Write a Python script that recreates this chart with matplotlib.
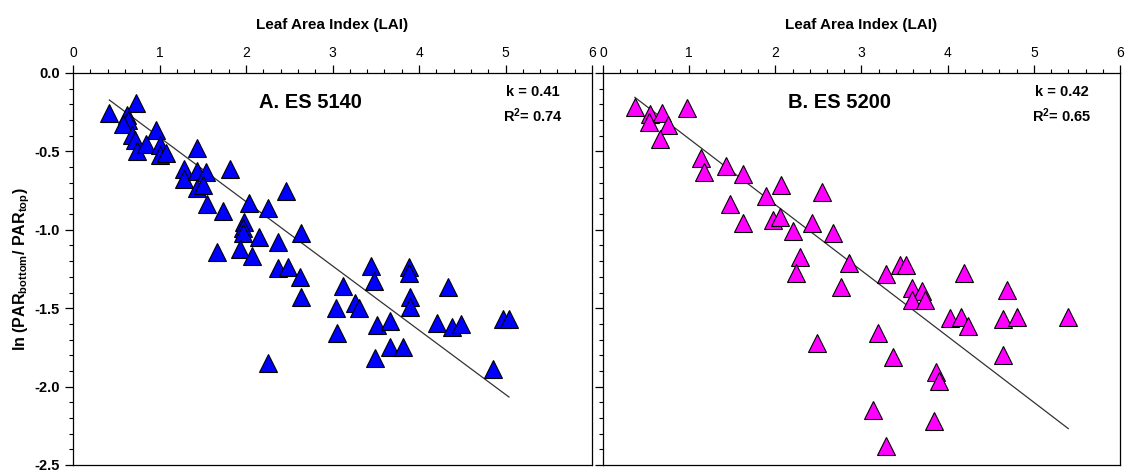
import matplotlib
matplotlib.use("Agg")
import matplotlib.pyplot as plt
from matplotlib.ticker import MultipleLocator
import numpy as np

plt.rcParams['font.family'] = ['Liberation Sans', 'DejaVu Sans']
plt.rcParams['mathtext.default'] = 'regular'

# ES 5140 (panel A)
lai_a = [0.42, 0.73, 0.62, 0.64, 0.58, 0.68, 0.72, 0.74, 0.84, 0.96, 1.01, 1.01,
         1.08, 1.43, 1.28, 1.28, 1.43, 1.54, 1.43, 1.50, 1.81, 1.55, 1.73, 2.03,
         2.26, 2.46, 1.98, 1.97, 1.97, 2.15, 2.37, 2.64, 1.66, 1.93, 2.07, 2.37,
         2.49, 2.62, 2.64, 3.12, 3.44, 3.48, 3.88, 3.88, 4.33, 3.04, 3.26, 3.31,
         3.90, 3.90, 3.05, 3.51, 3.66, 4.21, 4.38, 4.49, 4.97, 5.04, 2.26, 3.49,
         3.67, 3.81, 4.85]
lnpar_a = [-0.257, -0.193, -0.268, -0.30, -0.327, -0.395, -0.427, -0.495, -0.453,
           -0.364, -0.459, -0.523, -0.512, -0.48, -0.614, -0.678, -0.623, -0.629,
           -0.735, -0.714, -0.614, -0.835, -0.878, -0.827, -0.863, -0.753, -0.948,
           -0.99, -1.02, -1.044, -1.076, -1.022, -1.14, -1.124, -1.17, -1.245,
           -1.235, -1.30, -1.427, -1.358, -1.231, -1.325, -1.239, -1.277, -1.367,
           -1.50, -1.465, -1.50, -1.427, -1.49, -1.656, -1.607, -1.58, -1.597,
           -1.618, -1.60, -1.571, -1.571, -1.85, -1.82, -1.75, -1.75, -1.89]

# ES 5200 (panel B)
lai_b = [0.37, 0.55, 0.53, 0.69, 0.76, 0.66, 0.98, 1.14, 1.17, 1.43, 1.62, 1.47,
         1.63, 1.89, 2.06, 2.54, 1.97, 2.05, 2.20, 2.42, 2.67, 2.29, 2.24, 2.85,
         2.76, 3.29, 3.45, 3.52, 4.19, 3.59, 3.70, 3.59, 3.74, 4.69, 4.03, 4.16,
         4.24, 4.64, 4.80, 5.40, 2.48, 3.19, 3.36, 4.64, 3.86, 3.90, 3.13, 3.84,
         3.28]
lnpar_b = [-0.215, -0.261, -0.31, -0.253, -0.33, -0.423, -0.225, -0.544, -0.63,
           -0.593, -0.644, -0.835, -0.959, -0.784, -0.714, -0.757, -0.938, -0.92,
           -1.006, -0.955, -1.022, -1.171, -1.273, -1.21, -1.363, -1.28, -1.224,
           -1.224, -1.273, -1.373, -1.388, -1.448, -1.448, -1.384, -1.565, -1.558,
           -1.614, -1.571, -1.558, -1.558, -1.724, -1.66, -1.809, -1.798, -1.905,
           -1.962, -2.149, -2.217, -2.379]

panels = [
    dict(x=lai_a, y=lnpar_a, color='#0000ff', title='A. ES 5140', k=0.41, r2=0.74),
    dict(x=lai_b, y=lnpar_b, color='#ff00ff', title='B. ES 5200', k=0.42, r2=0.65),
]

fig = plt.figure(figsize=(11.27, 4.74), dpi=100)
ax_a = fig.add_axes([73 / 1127, 9 / 474, 519 / 1127, 392 / 474])
ax_b = fig.add_axes([603 / 1127, 9 / 474, 517 / 1127, 392 / 474])

for ax, p in zip([ax_a, ax_b], panels):
    # fitted line y = -k * LAI over the data range
    xs = np.array([min(p['x']), max(p['x'])])
    ax.plot(xs, -p['k'] * xs, color='#333333', lw=0.9, zorder=1)
    ax.plot(p['x'], p['y'], linestyle='none', marker='^', ms=12.5,
            markerfacecolor=p['color'], markeredgecolor='black',
            markeredgewidth=0.8, zorder=2)

    ax.set_xlim(0, 6)
    ax.set_ylim(-2.5, 0)
    ax.xaxis.tick_top()
    ax.xaxis.set_label_position('top')
    ax.xaxis.set_major_locator(MultipleLocator(1))
    ax.xaxis.set_minor_locator(MultipleLocator(0.2))
    ax.yaxis.set_major_locator(MultipleLocator(0.5))
    ax.yaxis.set_minor_locator(MultipleLocator(0.1))
    ax.tick_params(which='major', direction='out', length=6, width=0.9, labelsize=10)
    ax.tick_params(which='minor', direction='out', length=3, width=0.8)
    ax.set_xlabel('Leaf Area Index (LAI)', fontsize=11, fontweight='bold', labelpad=12)
    for s in ax.spines.values():
        s.set_linewidth(0.9)

    ax.text(2.74, -0.19, p['title'], fontsize=14.5, fontweight='bold',
            ha='center', va='center')
    ax.text(5.32, -0.12, 'k = %.2f' % p['k'], fontsize=10.5, fontweight='bold',
            ha='center', va='center')
    ax.text(5.32, -0.27, 'R$^2$= %.2f' % p['r2'], fontsize=10.5, fontweight='bold',
            ha='center', va='center')

ax_a.set_yticklabels(['%.1f' % v for v in ax_a.get_yticks()], fontweight='bold',
                     fontsize=10.5)
ax_a.set_ylabel('ln (PAR$_{bottom}$/ PAR$_{top}$)', fontsize=11.5, fontweight='bold',
                labelpad=2)
ax_b.tick_params(axis='y', labelleft=False)

fig.savefig('out.png', dpi=100)
